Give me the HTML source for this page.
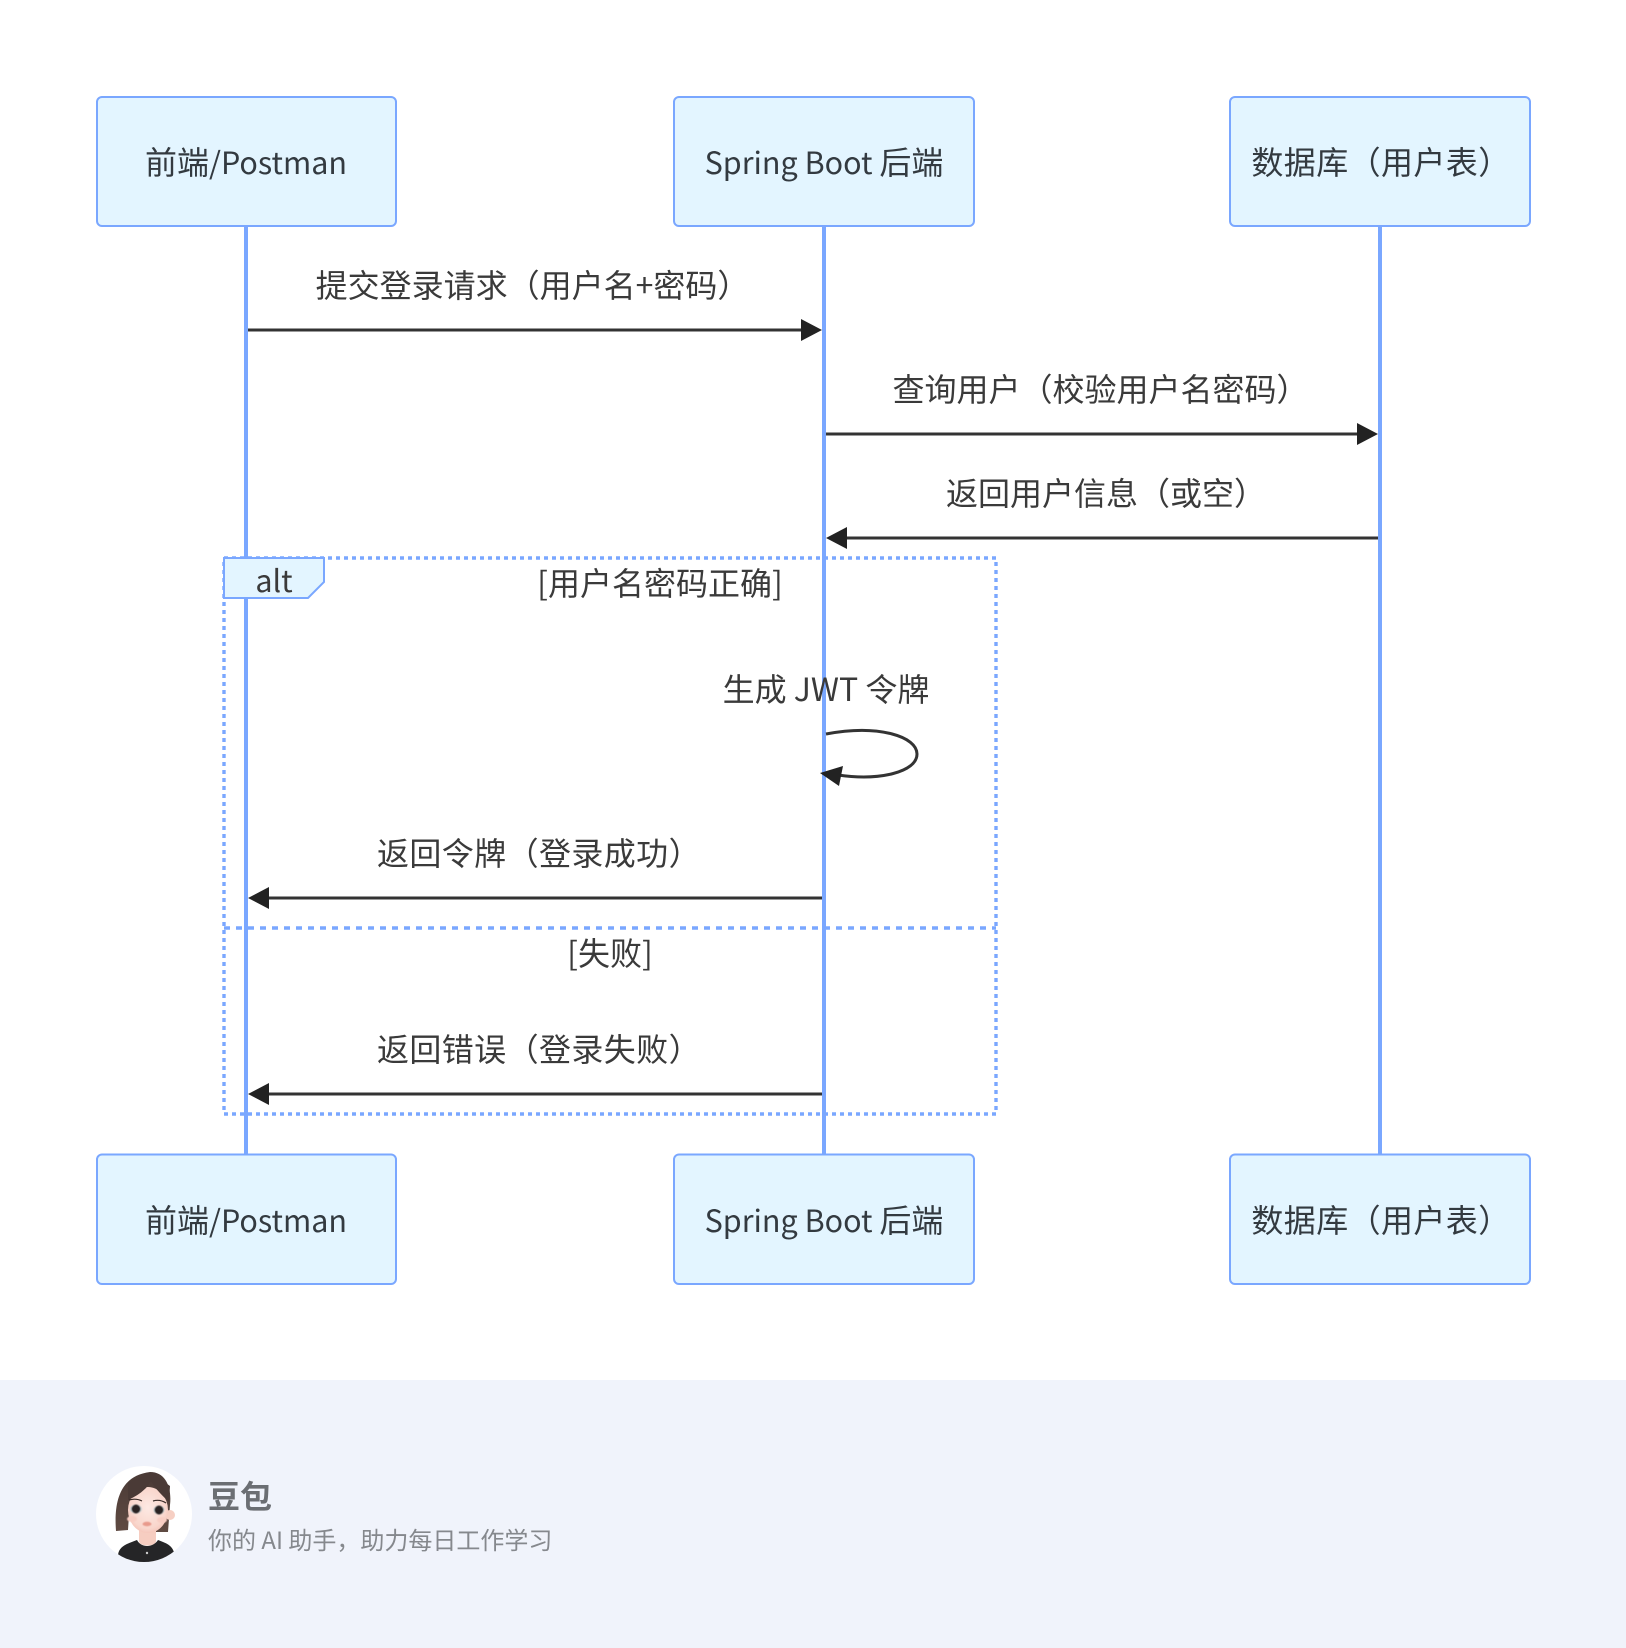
<!DOCTYPE html>
<html lang="zh"><head><meta charset="utf-8"><style>
html,body{margin:0;padding:0;background:#fff}
svg{display:block}
text{font-family:"Noto Sans CJK SC","Liberation Sans",sans-serif;fill:#3a3a3a;font-size:32px}
tspan.l,text.l{font-size:30.5px}
.m{text-anchor:middle}
.t{fill:#333a40}
.w{letter-spacing:.4px}
</style></head><body>
<svg xmlns="http://www.w3.org/2000/svg" width="1626" height="1648" viewBox="0 0 1626 1648">
<defs>
<radialGradient id="sk" cx=".5" cy=".45" r=".6"><stop offset="0" stop-color="#fde9e3"/><stop offset=".75" stop-color="#f9d6cc"/><stop offset="1" stop-color="#f3c0b4"/></radialGradient>
<linearGradient id="hr" x1="0" y1="0" x2="0" y2="1"><stop offset="0" stop-color="#4a3a36"/><stop offset="1" stop-color="#5f4a42"/></linearGradient>
<filter id="bl"><feGaussianBlur stdDeviation=".6"/></filter>
</defs>
<rect width="1626" height="1648" fill="#fff"/>
<!-- lifelines -->
<g stroke="#7aa7ff" stroke-width="4">
<line x1="246" y1="226" x2="246" y2="1154"/>
<line x1="824" y1="226" x2="824" y2="1154"/>
<line x1="1380" y1="226" x2="1380" y2="1154"/>
</g>
<!-- actors -->
<g fill="#e3f5ff" stroke="#7aa7ff" stroke-width="2">
<rect x="97" y="97" width="299" height="129" rx="5"/>
<rect x="674" y="97" width="300" height="129" rx="5"/>
<rect x="1230" y="97" width="300" height="129" rx="5"/>
<rect x="97" y="1154.5" width="299" height="129.5" rx="5"/>
<rect x="674" y="1154.5" width="300" height="129.5" rx="5"/>
<rect x="1230" y="1154.5" width="300" height="129.5" rx="5"/>
</g>
<text class="m t" x="246" y="174">前端<tspan class="l">/Postman</tspan></text>
<text class="m t" x="824" y="174"><tspan class="l">Spring Boot </tspan>后端</text>
<text class="m t w" x="1381" y="174">数据库（用户表）</text>
<text class="m t" x="246" y="1232">前端<tspan class="l">/Postman</tspan></text>
<text class="m t" x="824" y="1232"><tspan class="l">Spring Boot </tspan>后端</text>
<text class="m t w" x="1381" y="1232">数据库（用户表）</text>
<!-- alt frame -->
<g fill="none" stroke="#7aa7ff" stroke-width="3.4">
<rect x="224" y="558" width="772" height="556" stroke-dasharray="4 4"/>
<line x1="224" y1="928" x2="996" y2="928" stroke-dasharray="6 6"/>
</g>
<path d="M224 558H324V582L308 598H224Z" fill="#e3f5ff" stroke="#7aa7ff" stroke-width="2"/>
<text class="m l" x="274" y="592">alt</text>
<text class="m" x="660" y="595">[用户名密码正确]</text>
<text class="m" x="610" y="965">[失败]</text>
<!-- messages -->
<g fill="#222" stroke="#333" stroke-width="3">
<line x1="248" y1="330" x2="804" y2="330"/>
<path d="M822 330L801 319V341Z" stroke="none"/>
<line x1="826" y1="434" x2="1360" y2="434"/>
<path d="M1378 434L1357 423V445Z" stroke="none"/>
<line x1="1378" y1="538" x2="844" y2="538"/>
<path d="M826 538L847 527V549Z" stroke="none"/>
<line x1="822" y1="898" x2="266" y2="898"/>
<path d="M248 898L269 887V909Z" stroke="none"/>
<line x1="822" y1="1094" x2="266" y2="1094"/>
<path d="M248 1094L269 1083V1105Z" stroke="none"/>
<path d="M826 734C880 724 917 737 917 754C917 772 880 781 838 775" fill="none"/>
<path d="M820 773L843 766L839 786Z" stroke="none"/>
</g>
<text class="m" x="532.5" y="297">提交登录请求（用户名+密码）</text>
<text class="m" x="1100.5" y="401">查询用户（校验用户名密码）</text>
<text class="m" x="1106" y="505">返回用户信息（或空）</text>
<text class="m" x="826" y="701">生成 JWT 令牌</text>
<text class="m w" x="539" y="865">返回令牌（登录成功）</text>
<text class="m w" x="539" y="1061">返回错误（登录失败）</text>
<!-- footer -->
<rect x="0" y="1380" width="1626" height="268" fill="#f0f3fb"/>
<circle cx="144" cy="1514" r="48" fill="#fff"/>
<clipPath id="av"><circle cx="144" cy="1514" r="48"/></clipPath>
<g clip-path="url(#av)">
<path d="M116 1531C114 1505 118 1476 150 1472C166 1472 172 1488 170 1505L168 1532H156V1500L130 1500L128 1530Z" fill="url(#hr)"/>
<path d="M139 1526H156V1541C156 1547 139 1547 139 1541Z" fill="#f6cdc1"/>
<path d="M118 1555C119 1545 130 1543 137 1540C141 1548 153 1548 158 1540C165 1543 171 1544 174 1552C166 1560 155 1564 144 1564C134 1564 125 1561 118 1555Z" fill="#252527"/>
<circle cx="170" cy="1515" r="5" fill="#f6cfc3"/>
<ellipse cx="148" cy="1510" rx="20" ry="23" fill="url(#sk)"/>
<path d="M128 1500C134 1497 145 1492 151 1481C156 1490 163 1496 169 1502L170 1486L152 1473L128 1482Z" fill="#4a3a36"/>
<g filter="url(#bl)">
<ellipse cx="136" cy="1509" rx="6" ry="4.5" fill="#c9d0d2"/>
<ellipse cx="159" cy="1510" rx="5.5" ry="4.5" fill="#c9d0d2"/>
<circle cx="136" cy="1509" r="4.5" fill="#2a2020"/>
<circle cx="159" cy="1510" r="4.5" fill="#2a2020"/>
<ellipse cx="132" cy="1519" rx="5" ry="3" fill="#f8cdc3"/>
<ellipse cx="162" cy="1520" rx="5" ry="3" fill="#f8cdc3"/>
<ellipse cx="147" cy="1524" rx="4.5" ry="2.2" fill="#e89a8c"/>
</g>
<path d="M129 1500Q136 1498 142 1501M153 1501Q160 1499 166 1503" stroke="#3a2c28" stroke-width="1.2" fill="none"/>
<circle cx="147" cy="1553" r="1.2" fill="#ccc"/>
</g>
<text x="208" y="1508" style="font-size:32px;font-weight:700;fill:#6b6e73">豆包</text>
<text x="208" y="1549" style="font-size:24px;fill:#85888d">你的 AI 助手，助力每日工作学习</text>
</svg>
</body></html>
